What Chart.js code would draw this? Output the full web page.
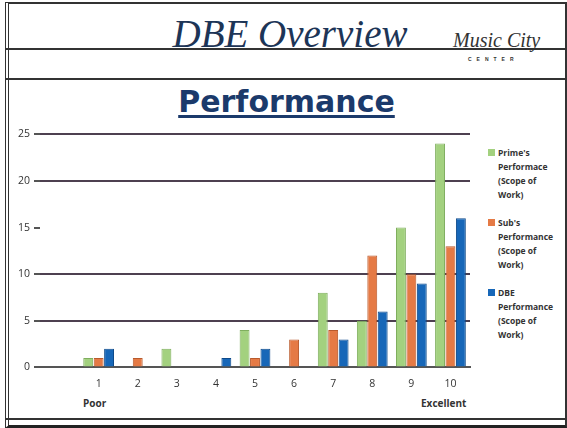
<!DOCTYPE html>
<html>
<head>
<meta charset="utf-8">
<script src="https://cdn.jsdelivr.net/npm/chart.js@4.4.0/dist/chart.umd.min.js"></script>
<style>
  body { margin: 0; background: #fff; width: 567px; height: 428px; overflow: hidden; position: relative; font-family: 'Liberation Sans', sans-serif; }
  .frame { position: absolute; left: 5px; top: 2px; width: 556px; height: 421px; border: 2px solid #333; border-left: 4px double #333; border-bottom: 3px solid #222; }
  .hline { position: absolute; left: 5px; width: 560px; height: 0; border-top: 2px solid #333; }
  #title { position: absolute; left: 0; top: 11px; width: 580px; text-align: center; font-family: 'Liberation Serif', serif; font-style: italic; font-size: 39px; color: #1d3557; }
  #logo { position: absolute; left: 453px; top: 29px; font-family: 'Liberation Serif', serif; font-style: italic; font-size: 20px; color: #333; }
  #logo2 { position: absolute; left: 468px; top: 56px; font-size: 5px; letter-spacing: 5px; color: #333; font-weight: bold; }
  #sub { position: absolute; left: 0; top: 84px; width: 573px; text-align: center; font-family: 'DejaVu Sans', sans-serif; font-weight: bold; font-size: 30px; color: #1b3a6b; text-decoration: underline; text-decoration-thickness: 3px; text-underline-offset: 3px; }
  #wrap { position: absolute; left: 14px; top: 124px; width: 458px; height: 268px; }
  #legend { position: absolute; left: 488px; top: 146px; font-family: 'Open Sans', sans-serif; font-weight: bold; font-size: 8.5px; line-height: 14px; color: #333; }
  .item { position: relative; padding-left: 10px; margin-bottom: 14px; }
  .sw { position: absolute; left: 0; top: 3px; width: 7px; height: 7px; }
  .end { position: absolute; top: 396px; font-family: 'Open Sans', sans-serif; font-weight: bold; font-size: 10px; color: #333; }
</style>
</head>
<body>
<div class="frame"></div>
<div class="hline" style="top:48px"></div>
<div class="hline" style="top:78px"></div>
<div class="hline" style="top:418px"></div>
<div id="title">DBE Overview</div>
<div id="logo">Music City</div>
<div id="logo2">CENTER</div>
<div id="sub">Performance</div>
<div id="wrap"><canvas id="myChart"></canvas></div>
<div class="end" style="left:83px">Poor</div>
<div class="end" style="left:421px">Excellent</div>
<div id="legend"></div>
<script>
'use strict';
const categories = ['', '1', '2', '3', '4', '5', '6', '7', '8', '9', '10'];
const seriesNames = [
  ['Prime\'s', 'Performace', '(Scope of', 'Work)'],
  ['Sub\'s', 'Performance', '(Scope of', 'Work)'],
  ['DBE', 'Performance', '(Scope of', 'Work)']
];
const prime = [null, 1, 0, 2, 0, 4, 0, 8, 5, 15, 24];
const sub = [null, 1, 1, 0, 0, 1, 3, 4, 12, 10, 13];
const dbe = [null, 2, 0, 0, 1, 2, 0, 3, 6, 9, 16];
const yTicks = [0, 5, 10, 15, 20, 25];

const fills = ['#a3d17f', '#e57a45', '#1767b8'];
const edges = ['#7fae5e', '#b95a2c', '#0e4a8a'];

const legend = document.getElementById('legend');
for (let i = 0; i < seriesNames.length; i++) {
  const div = document.createElement('div');
  div.className = 'item';
  div.innerHTML = `<span class="sw" style="background:${fills[i]}"></span>` + seriesNames[i].join('<br>');
  legend.appendChild(div);
}

const ctx = document.getElementById('myChart').getContext('2d');
new Chart(ctx, {
  type: 'bar',
  data: {
    labels: categories,
    datasets: [prime, sub, dbe].map((d, i) => ({
      label: seriesNames[i].join(' '),
      data: d,
      backgroundColor: fills[i],
      borderColor: edges[i],
      borderWidth: 1,
      categoryPercentage: 0.8,
      barPercentage: 0.95
    }))
  },
  options: {
    responsive: true,
    maintainAspectRatio: false,
    animation: false,
    layout: { padding: { right: 2 } },
    plugins: { legend: { display: false }, tooltip: { enabled: false } },
    scales: {
      x: {
        grid: { display: false, drawTicks: true },
        border: { color: '#555', width: 2 },
        ticks: { color: '#333', font: { family: 'Open Sans', size: 10.5 }, maxRotation: 0, autoSkip: false, padding: 2 }
      },
      y: {
        min: 0, max: 25,
        afterBuildTicks: (axis) => { axis.ticks = yTicks.map(v => ({ value: v })); },
        grid: {
          color: (c) => (c.tick && (c.tick.value === 15 || c.tick.value === 0)) ? 'rgba(0,0,0,0)' : '#4d4050',
          lineWidth: 2,
          tickColor: '#555',
          tickLength: 6
        },
        border: { display: false },
        ticks: { color: '#333', font: { family: 'Open Sans', size: 10.5 }, padding: 4 }
      }
    }
  }
});
</script>
</body>
</html>
